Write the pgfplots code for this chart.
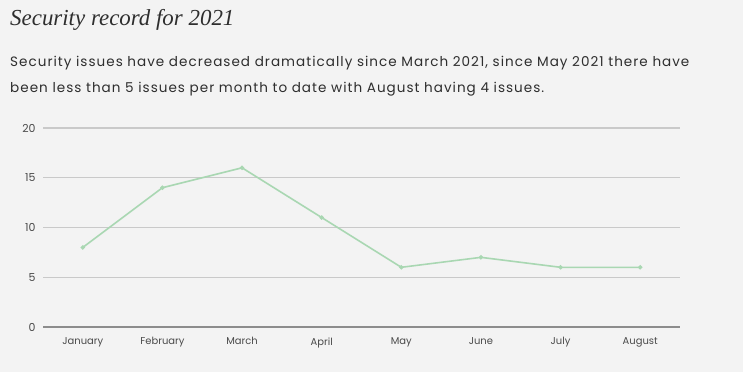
\documentclass[border=0pt]{standalone}
\usepackage{pgfplots}
\pgfplotsset{compat=1.18}
\usepackage{fontspec}
\setmainfont{Poppins}
\newfontfamily\titlefont{Liberation Serif}
\newfontfamily\subfont[LetterSpace=7.5]{Poppins}
\definecolor{bg}{HTML}{F3F3F3}
\definecolor{gridc}{HTML}{C9C9C9}
\definecolor{basec}{HTML}{8C8C8C}
\definecolor{linec}{HTML}{A9D7B2}
\definecolor{txt}{HTML}{2E2E2E}
\definecolor{tick}{HTML}{4A4A4A}
\begin{document}
\begin{tikzpicture}[x=1bp,y=1bp]
\fill[bg] (0,0) rectangle (743,372);
\useasboundingbox (0,0) rectangle (743,372);
\node[anchor=base west, inner sep=0, text=txt] at (10,347) {\titlefont\itshape\fontsize{23}{25}\selectfont Security record for 2021};
\node[anchor=base west, inner sep=0, text=txt] at (10,306) {\subfont\fontsize{13.6}{16}\selectfont Security issues have decreased dramatically since March 2021, since May 2021 there have};
\node[anchor=base west, inner sep=0, text=txt] at (10,280) {\subfont\fontsize{13.6}{16}\selectfont been less than 5 issues per month to date with August having 4 issues.};
\begin{axis}[
  at={(43bp,45bp)}, anchor=south west,
  scale only axis, width=637bp, height=199bp,
  xmin=-0.5, xmax=7.5, ymin=0, ymax=20,
  axis line style={draw=none},
  xtick={0,...,7},
  xticklabels={January,February,March,April,May,June,July,August},
  ytick={0,5,10,15,20},
  ymajorgrids, grid style={gridc, line width=1.3pt},
  major tick length=0pt,
  tick label style={text=tick, font=\fontsize{10}{12}\selectfont},
  yticklabel style={xshift=-4bp, font=\fontsize{11}{12}\selectfont},
  xticklabel style={yshift=-7bp},
  /pgf/number format/assume math mode=true,
  clip=false,
]
\draw[basec, line width=1.5pt] (axis cs:-0.5,0) -- (axis cs:7.5,0);
\addplot[linec, line width=1.6pt, mark=*, mark size=1.3pt, mark options={fill=linec, draw=linec}] coordinates {
(0,8) (1,14) (2,16) (3,11) (4,6) (5,7) (6,6) (7,6)
};
\end{axis}
\end{tikzpicture}
\end{document}
